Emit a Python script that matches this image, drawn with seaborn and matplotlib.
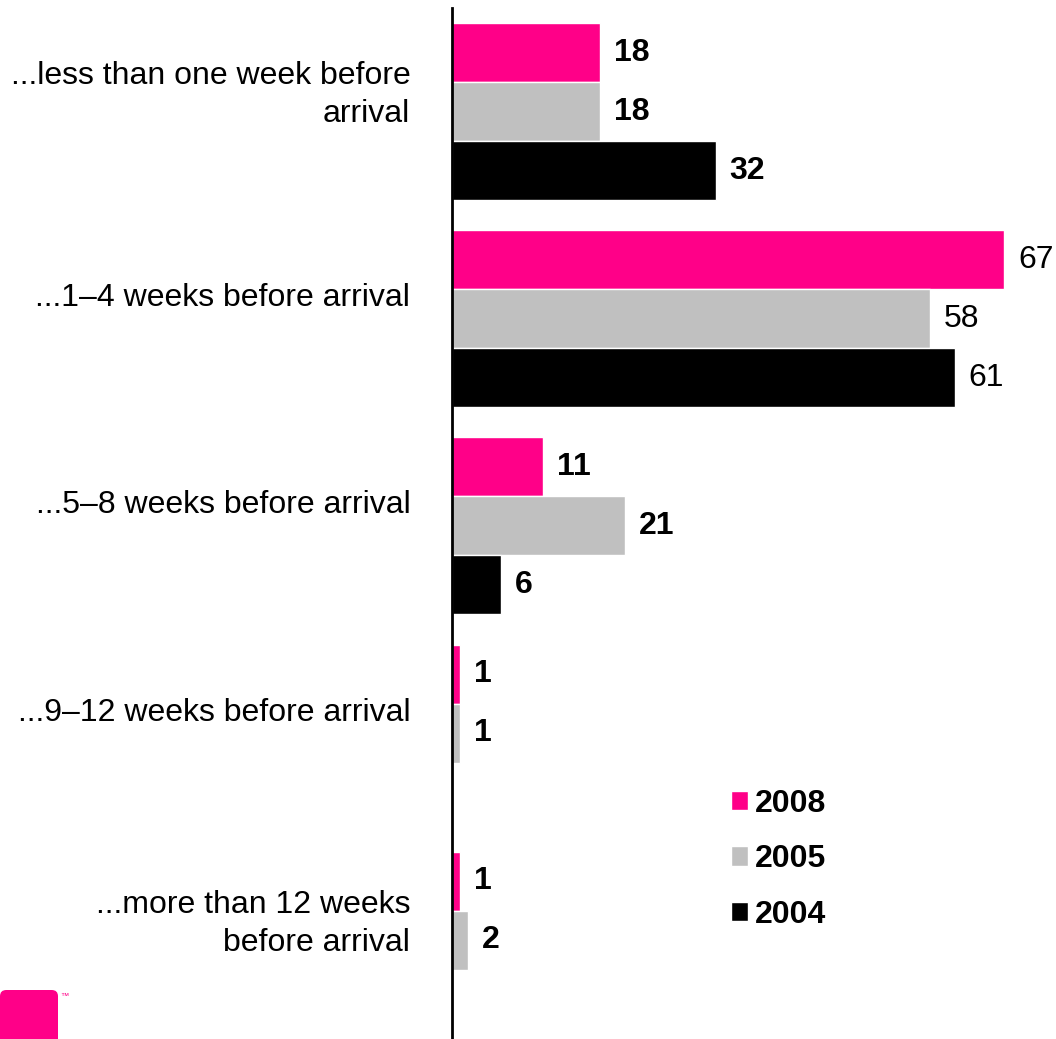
import matplotlib
matplotlib.use("Agg")
import matplotlib.pyplot as plt
import matplotlib.transforms as mtransforms
import seaborn as sns
import pandas as pd
from matplotlib.patches import FancyBboxPatch

categories = ["...less than one week before\narrival",
              "...1\u20134 weeks before arrival",
              "...5\u20138 weeks before arrival",
              "...9\u201312 weeks before arrival",
              "...more than 12 weeks\nbefore arrival"]
years = ["2008", "2005", "2004"]
v2008 = [18, 67, 11, 1, 1]
v2005 = [18, 58, 21, 1, 2]
v2004 = [32, 61, 6, None, None]
colors = ["#FF0088", "#C0C0C0", "#000000"]

rows = []
for yr, vals in zip(years, [v2008, v2005, v2004]):
    for c, v in zip(categories, vals):
        if v is not None:
            rows.append({"cat": c, "year": yr, "value": v})
df = pd.DataFrame(rows)

sns.set_style("white")
plt.rcParams["font.family"] = ["Liberation Sans", "DejaVu Sans"]
plt.rcParams["text.color"] = "black"
plt.rcParams["ytick.color"] = "black"
plt.rcParams["xtick.color"] = "black"

fig = plt.figure(figsize=(10.56, 10.39), dpi=100)
ax = fig.add_axes([452/1056, 0, 1 - 452/1056, 1 - 8/1039])

sns.barplot(data=df, y="cat", x="value", hue="year", order=categories,
            hue_order=years, palette=colors, orient="h", width=0.855,
            saturation=1, ax=ax, legend=True)

for cont in ax.containers:
    labels = [f"{b.get_width():.0f}" for b in cont]
    ax.bar_label(cont, labels=labels, padding=10, fontsize=23,
                 fontweight="bold", color="black")
for t in ax.texts:
    if t.get_text() in ("67", "58", "61"):
        t.set_fontweight("normal")

ax.set_xlim(0, (1056 - 452) / (552 / 67))
ax.set_ylim(4.478, -0.502)
ax.set_xlabel("")
ax.set_ylabel("")
ax.set_xticks([])
ax.tick_params(axis="y", length=0, pad=30, labelsize=23, labelcolor="black")
shift = mtransforms.ScaledTranslation(0, 24 / 100, fig.dpi_scale_trans)
for lbl in ax.get_yticklabels():
    lbl.set_horizontalalignment("right")
    lbl.set_linespacing(1.35)
    lbl.set_transform(lbl.get_transform() + shift)
for s in ["top", "right", "bottom"]:
    ax.spines[s].set_visible(False)
ax.spines["left"].set_linewidth(2)
ax.spines["left"].set_color("black")

leg = ax.legend(loc="upper left", bbox_to_anchor=((718 - 452) / 604, 1 - 768 / 1031),
                frameon=False, fontsize=23, handlelength=0.53, handleheight=0.56,
                handletextpad=0.22, labelspacing=0.8, borderaxespad=0)
for t in leg.get_texts():
    t.set_fontweight("bold")
    t.set_color("black")

# logo
logo = FancyBboxPatch((0, -20 / 1039), 58 / 1056, 69 / 1039,
                      boxstyle="round,pad=0,rounding_size=0.006",
                      transform=fig.transFigure, facecolor="#FF0088",
                      edgecolor="none")
fig.patches.append(logo)
fig.text(60 / 1056, 1 - 998 / 1039, "\u2122", fontsize=6, color="#FF0088")

fig.savefig("out.png", dpi=100)
